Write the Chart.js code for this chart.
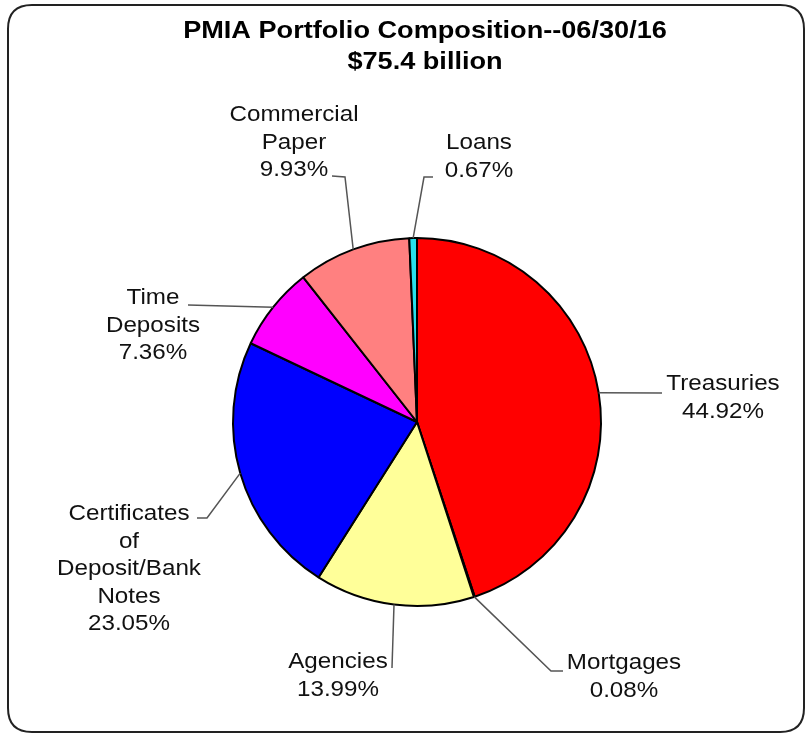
<!DOCTYPE html>
<html>
<head>
<meta charset="utf-8">
<title>PMIA Portfolio Composition</title>
<script src="https://cdn.jsdelivr.net/npm/chart.js@4.4.1/dist/chart.umd.min.js"></script>
<style>
  html, body { margin: 0; padding: 0; background: #fff; }
  canvas { display: block; }
</style>
</head>
<body>
<canvas id="pmiaChart" width="806" height="734"></canvas>
<script>
// chart data, clockwise from 12 o'clock
const categories = [
  "Treasuries",
  "Mortgages",
  "Agencies",
  "Certificates of Deposit/Bank Notes",
  "Time Deposits",
  "Commercial Paper",
  "Loans"
];
const percentages = [44.92, 0.08, 13.99, 23.05, 7.36, 9.93, 0.67];
const labelLines = [
  ["Treasuries"],
  ["Mortgages"],
  ["Agencies"],
  ["Certificates", "of", "Deposit/Bank", "Notes"],
  ["Time", "Deposits"],
  ["Commercial", "Paper"],
  ["Loans"]
];
const sliceColors = ["#ff0000", "#000080", "#ffff99", "#0000ff", "#ff00ff", "#ff8080", "#26e0ec"];
const titleLines = ["PMIA Portfolio Composition--06/30/16", "$75.4 billion"];

// leader line bends and text position, relative to the pie centre
const labelLayout = [
  { path: [[245, -29]], text: [306, -38] },
  { path: [[134, 249], [146, 249]], text: [207, 241] },
  { path: [[-25, 246]], text: [-79, 240] },
  { path: [[-210, 96], [-220, 96]], text: [-288, 92] },
  { path: [[-229, -117]], text: [-264, -124] },
  { path: [[-72, -245], [-85, -246]], text: [-123, -307] },
  { path: [[7, -245], [16, -245]], text: [62, -279] }
];

const LABEL_FONT = '22px "Liberation Sans", Arial, sans-serif';
const TITLE_FONT = 'bold 24px "Liberation Sans", Arial, sans-serif';
const LINE_HEIGHT = 27.5;

// source picture is a bit wider than tall, so text gets stretched
function drawStretched(ctx, text, x, y, font, stretch) {
  ctx.save();
  ctx.font = font;
  ctx.textAlign = "center";
  ctx.textBaseline = "middle";
  ctx.translate(x, y);
  ctx.scale(stretch, 1);
  ctx.fillText(text, 0, 0);
  ctx.restore();
}

function roundRect(ctx, x, y, w, h, r) {
  ctx.beginPath();
  ctx.moveTo(x + r, y);
  ctx.lineTo(x + w - r, y);
  ctx.quadraticCurveTo(x + w, y, x + w, y + r);
  ctx.lineTo(x + w, y + h - r);
  ctx.quadraticCurveTo(x + w, y + h, x + w - r, y + h);
  ctx.lineTo(x + r, y + h);
  ctx.quadraticCurveTo(x, y + h, x, y + h - r);
  ctx.lineTo(x, y + r);
  ctx.quadraticCurveTo(x, y, x + r, y);
  ctx.closePath();
}

const framePlugin = {
  id: "frame",
  beforeDraw(chart) {
    const ctx = chart.ctx;
    ctx.save();
    ctx.fillStyle = "#fff";
    ctx.fillRect(0, 0, chart.width, chart.height);
    ctx.restore();
  },
  afterDraw(chart) {
    const ctx = chart.ctx;
    ctx.save();
    ctx.strokeStyle = "#222";
    ctx.lineWidth = 2;
    roundRect(ctx, 8, 5, 796, 727, 24);
    ctx.stroke();

    ctx.fillStyle = "#000";
    drawStretched(ctx, titleLines[0], 425, 31, TITLE_FONT, 1.13);
    drawStretched(ctx, titleLines[1], 425, 62, TITLE_FONT, 1.13);
    ctx.restore();
  }
};

const leaderLabelPlugin = {
  id: "leaderLabels",
  afterDatasetsDraw(chart) {
    const ctx = chart.ctx;
    const meta = chart.getDatasetMeta(0);
    const values = chart.data.datasets[0].data;

    meta.data.forEach((arc, i) => {
      const p = arc.getProps(["x", "y", "startAngle", "endAngle", "outerRadius"], true);
      const mid = (p.startAngle + p.endAngle) / 2;
      const layout = labelLayout[i];

      ctx.save();
      ctx.strokeStyle = "#555";
      ctx.lineWidth = 1.5;
      ctx.beginPath();
      ctx.moveTo(p.x + Math.cos(mid) * p.outerRadius, p.y + Math.sin(mid) * p.outerRadius);
      layout.path.forEach(pt => ctx.lineTo(p.x + pt[0], p.y + pt[1]));
      ctx.stroke();

      ctx.fillStyle = "#111";
      const lines = [...labelLines[i], values[i].toFixed(2) + "%"];
      lines.forEach((line, k) => {
        drawStretched(ctx, line, p.x + layout.text[0], p.y + layout.text[1] + k * LINE_HEIGHT, LABEL_FONT, 1.1);
      });
      ctx.restore();
    });
  }
};

new Chart(document.getElementById("pmiaChart"), {
  type: "pie",
  data: {
    labels: categories,
    datasets: [{
      data: percentages,
      backgroundColor: sliceColors,
      borderColor: "#000",
      borderWidth: 2,
      hoverOffset: 0
    }]
  },
  options: {
    responsive: false,
    devicePixelRatio: 1,
    animation: false,
    layout: {
      // puts the pie at (417, 422) with radius 185
      padding: { top: 237, bottom: 127, left: 232, right: 204 }
    },
    plugins: {
      legend: { display: false },
      title: { display: false },
      tooltip: { enabled: false }
    }
  },
  plugins: [framePlugin, leaderLabelPlugin]
});
</script>
</body>
</html>
